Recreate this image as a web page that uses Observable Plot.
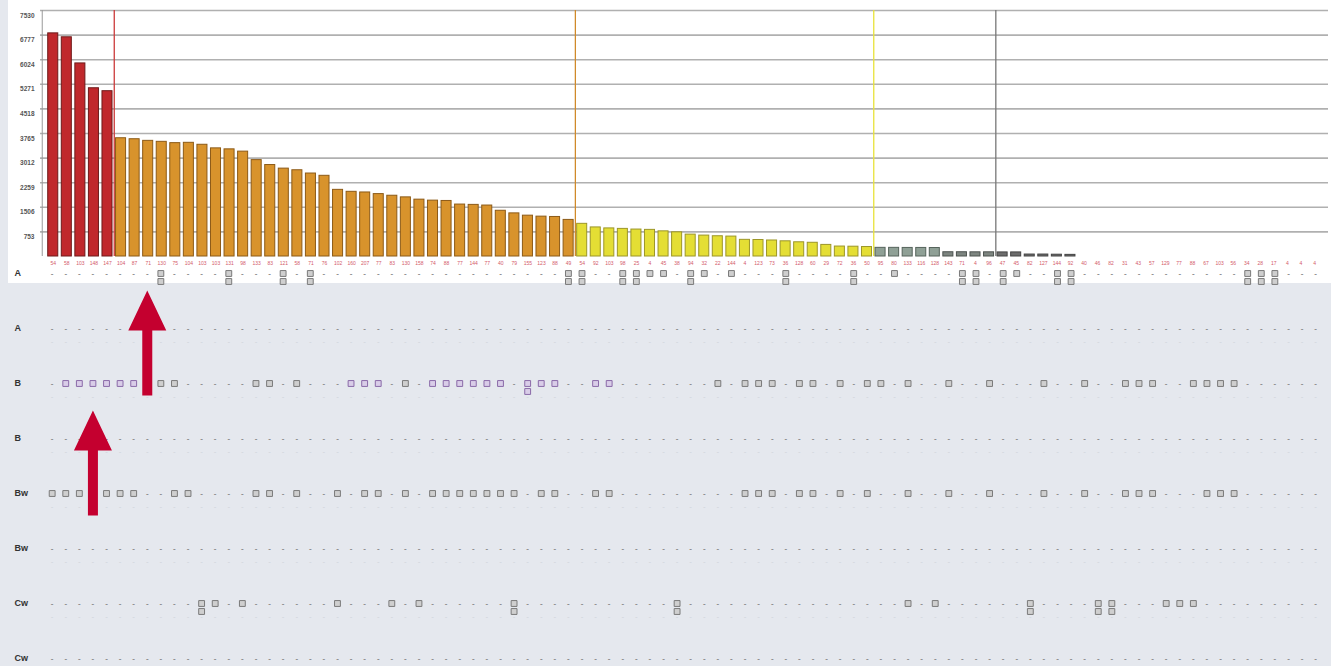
<!DOCTYPE html>
<html><head><meta charset="utf-8">
<script src="https://cdn.jsdelivr.net/npm/d3@7"></script>
<script src="https://cdn.jsdelivr.net/npm/@observablehq/plot@0.6"></script>
<style>
body{margin:0;background:#e5e8ee;font-family:"Liberation Sans",Arial,sans-serif;}
#wrap{position:relative;width:1331px;height:666px;overflow:hidden;}
#top,#bottom{position:absolute;left:8px;top:0;}
</style></head><body><div id="wrap"><div id="top"></div><div id="bottom"></div></div>
<script>
// ---- data ----
const values = [6830,6710,5910,5150,5060,
  3620,3590,3540,3510,3470,3480,3420,3310,3280,3210,2950,2800,2690,2640,2540,2470,2040,1980,1960,1910,1860,1810,1740,1710,1700,1590,1580,1560,1400,1320,1250,1220,1210,1120,
  1000,890,860,845,825,815,770,740,670,640,620,610,510,505,490,465,435,420,355,305,300,290,
  265,265,262,262,260,130,130,128,128,125,125,60,60,55,50,
  0,0,0,0,0,0,0,0,0,0,0,0,0,0,0,0,0,0];
const groupNames = ["red","orange","yellow","sage","gray","dark"];
const groupCounts = [5,34,22,5,4,24];
const groupFill = ["#c0282c","#d8932c","#e4de34","#8fa096","#7d8580","#6c6c6c"];
const groupStroke = ["#6e1a1a","#8c5a17","#9c9628","#56645c","#4c524f","#444444"];
const ruleAfterGroup = [0,1,2,4];
const ruleColors = ["#cc3a3a","#d08a2a","#e8e23a","#777777"];
const topLabels = ["54","58","103","148","147","104","87","71","130","75","104","103","103","131","98","133","83","121","58","71","76","102","160","207","77","83","130","158","74","88","77","144","77","40","79","155","123","88","49","54","92","103","98","25","4","45","38","94","32","22","144","4","123","73","36","128","60","29","72","36","50","95","80","133","116","128","143","71","4","96","47","45","82","127","144","92","40","46","82","31","43","57","129","77","88","67","103","56","34","28","17","4","4","4"];
const yTicks = [753,1506,2259,3012,3765,4518,5271,6024,6777,7530];
const rowNames = ["A","A","B","B","Bw","Bw","Cw","Cw"];
const boxesByRow = [
  [9,14,18,20,39,40,43,44,45,46,48,49,51,55,60,63,68,69,71,72,75,76,89,90,91],
  [],
  [2,3,4,5,6,7,9,10,16,17,19,23,24,25,27,29,30,31,32,33,34,36,37,38,41,42,50,52,53,54,56,57,59,61,62,64,67,70,74,77,80,81,82,85,86,87,88],
  [],
  [1,2,3,4,5,6,7,10,11,16,17,19,22,24,25,27,29,30,31,32,33,34,35,37,38,41,42,52,53,54,56,57,59,61,64,67,70,74,77,80,81,82,86,87,88],
  [],
  [12,13,15,22,26,28,35,47,64,66,73,78,79,83,84,85],
  []
];
const purpleB = [2,3,4,5,6,7,23,24,25,29,30,31,32,33,34,36,37,38,41,42];
const stackedByRow = [[9,14,18,20,39,40,43,44,48,55,60,68,69,71,75,76,89,90,91],[],[36],[],[],[],[12,35,47,73,78,79],[]];
const arrows = [{col: 8, tip: 0.31}, {col: 4, tip: 2.49}];

// ---- build ----
const cols = d3.range(1, values.length + 1);
const groupIdx = groupCounts.flatMap((n, g) => Array(n).fill(g));
const data = cols.map((c, i) => ({col: c, value: values[i], g: groupIdx[i], label: topLabels[i]}));
const boundaries = ruleAfterGroup.map((g, k) => ({col: d3.sum(groupCounts.slice(0, g + 1)) + 1, color: ruleColors[k]}));
const pitch = 13.6;
const xRange = [36.2, 36.2 + cols.length * pitch];
const font = "'Liberation Sans', Arial, sans-serif";

const topPlot = Plot.plot({
  width: 1323, height: 283,
  marginLeft: 32, marginRight: 3, marginTop: 10, marginBottom: 27,
  style: {background: "white", fontFamily: font, overflow: "visible"},
  x: {type: "band", domain: cols, range: xRange, padding: 0.26, axis: null},
  y: {domain: [0, 7530], range: [256, 10], axis: null},
  color: {type: "identity"},
  marks: [
    Plot.ruleY(yTicks, {stroke: "#b0b0b0", strokeWidth: 1.6}),
    Plot.ruleX([1], {y1: 0, y2: 7530, dx: -11, stroke: "#9a9a9a", strokeWidth: 1}),
    Plot.axisY(yTicks, {label: null, tickSize: 0, tickPadding: 6, dy: 5, fontSize: 6.5, fontWeight: "bold", fill: "#555", tickFormat: d => String(d)}),
    Plot.ruleX(boundaries, {x: "col", y1: 0, y2: 7530, dx: -pitch / 2, stroke: "color", strokeWidth: 1.3}),
    Plot.barY(data.filter(d => d.value > 0), {x: "col", y: "value", fill: d => groupFill[d.g], stroke: d => groupStroke[d.g], strokeWidth: 1}),
    Plot.text(data, {x: "col", y: () => 0, dy: 7, text: "label", fontSize: 5, fill: "#d35a6a"})
  ]
});
document.getElementById("top").append(topPlot);

const cells = [], faint = [], boxes = [];
rowNames.forEach((name, r) => {
  const bx = new Set(boxesByRow[r]);
  cols.forEach(c => {
    if (bx.has(c)) {
      const purple = r === 2 && purpleB.includes(c);
      boxes.push({col: c, row: r, stacked: stackedByRow[r].includes(c), purple});
    } else cells.push({col: c, row: r});
    if (r > 0) faint.push({col: c, row: r});
  });
});

const arrowSymbol = {
  draw(ctx) {
    ctx.moveTo(0, 0);
    ctx.lineTo(19, 40);
    ctx.lineTo(5, 40);
    ctx.lineTo(5, 105);
    ctx.lineTo(-5, 105);
    ctx.lineTo(-5, 40);
    ctx.lineTo(-19, 40);
    ctx.closePath();
  }
};
const boxFill = d => d.purple ? "#d9cde8" : "#cfcfcf";
const boxStroke = d => d.purple ? "#8a6aa8" : "#7a7a7a";

const bottomPlot = Plot.plot({
  width: 1323, height: 666, margin: 0,
  style: {background: "transparent", fontFamily: font, overflow: "visible"},
  x: {type: "band", domain: cols, range: xRange, axis: null},
  y: {domain: [0, 7], range: [273, 658], axis: null},
  color: {type: "identity"},
  marks: [
    Plot.text(d3.range(rowNames.length), {frameAnchor: "left", y: d => d, text: d => rowNames[d], dx: 6, textAnchor: "start", fontSize: 9, fontWeight: "bold", fill: "#333"}),
    Plot.text(faint, {x: "col", y: "row", dy: 13, text: () => "-", fontSize: 8, fill: "#cfd3da"}),
    Plot.text(cells, {x: "col", y: "row", text: () => "-", fontSize: 8, fontWeight: "bold", fill: "#8a8a8a"}),
    Plot.dot(boxes, {x: "col", y: "row", symbol: "square", r: 3.3, fill: boxFill, stroke: boxStroke, strokeWidth: 1}),
    Plot.dot(boxes.filter(d => d.stacked), {x: "col", y: "row", dy: 8, symbol: "square", r: 3.3, fill: boxFill, stroke: boxStroke, strokeWidth: 1}),
    Plot.dot(arrows, {x: "col", y: "tip", symbol: arrowSymbol, fill: "#c4002f", stroke: "none"})
  ]
});
document.getElementById("bottom").append(bottomPlot);
</script>
</body></html>
